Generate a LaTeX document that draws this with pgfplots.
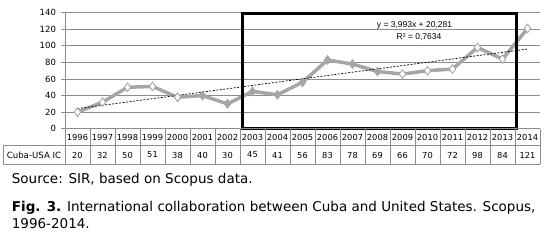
\documentclass[border=0pt]{standalone}
\usepackage{pgfplots}
\pgfplotsset{compat=1.18}
\usepackage{fontspec}
\setmainfont{DejaVu Sans}
\newfontfamily\eqfont{Liberation Sans}
\definecolor{serg}{HTML}{A6A6A6}
\definecolor{gridg}{HTML}{8C8C8C}
\begin{document}
\begin{tikzpicture}
\path[use as bounding box] (0pt,0pt) rectangle (548pt,241pt);
\begin{axis}[
  at={(65pt,112.3pt)}, anchor=south west, scale only axis,
  width=475pt, height=116pt,
  xmin=1995.5, xmax=2014.5, ymin=0, ymax=140,
  ytick={0,20,...,140}, xtick=\empty,
  ymajorgrids, grid style={gridg, line width=0.8pt},
  axis x line*=bottom, axis y line*=left,
  axis line style={gridg, line width=0.8pt},
  tick align=outside, major tick length=4pt,
  ytick style={gridg, line width=0.8pt},
  /pgf/number format/assume math mode=true,
  yticklabel style={font=\fontsize{8.5}{10}\selectfont, anchor=east, xshift=-1.5pt},
]
\addplot[serg, line width=3.5pt, no marks] coordinates {
(1996,20) (1997,32) (1998,50) (1999,51) (2000,38) (2001,40) (2002,30)
(2003,45) (2004,41) (2005,56) (2006,83) (2007,78) (2008,69) (2009,66)
(2010,70) (2011,72) (2012,98) (2013,84) (2014,121)};
\addplot[only marks, mark=diamond*, mark size=4.3pt, mark options={fill=white, draw=serg, line width=0.9pt}] coordinates {
(1996,20) (1997,32) (1998,50) (1999,51) (2000,38)
(2009,66) (2010,70) (2011,72) (2012,98) (2013,84) (2014,121)};
\addplot[only marks, mark=diamond*, mark size=4.3pt, mark options={fill=serg, draw=serg, line width=0.9pt}] coordinates {
(2001,40) (2002,30) (2003,45) (2004,41) (2005,56) (2006,83) (2007,78) (2008,69)};
\addplot[black, line width=0.7pt, dash pattern=on 2pt off 1.5pt] coordinates {(1996,24.274) (2014,96.148)};
\end{axis}
\begin{scope}[x=1pt,y=1pt]
% highlight box
\draw[black, line width=3pt] (242.3,112.7) rectangle (516.7,227.4);
% trend equation
\node[font=\eqfont\fontsize{8.5}{10}\selectfont, anchor=base] at (414.5,213.7) {y = 3,993x + 20,281};
\node[font=\eqfont\fontsize{8.5}{10}\selectfont, anchor=base] at (419,201) {R² = 0,7634};
% data table
\begin{scope}[gridg, line width=0.8pt]
\foreach \i in {0,...,19} \draw (65+25*\i,112.3) -- (65+25*\i,76.7);
\draw (3,95.3) -- (540,95.3);
\draw (3,76.7) -- (540,76.7);
\draw (3,95.3) -- (3,76.7);
\draw (65,112.3) -- (540,112.3);
\end{scope}
\foreach \y [count=\i from 0] in {1996,...,2014}
  \node[font=\fontsize{8.3}{9}\selectfont] at (77.5+25*\i,103.8) {\y};
\foreach \v [count=\i from 0] in {20,32,50,51,38,40,30,45,41,56,83,78,69,66,70,72,98,84,121}
  \node[font=\fontsize{8.3}{9}\selectfont] at (77.5+25*\i,86) {\v};
\node[font=\fontsize{8.6}{9}\selectfont] at (34,86) {Cuba-USA IC};
% source and caption
\node[anchor=base west, inner sep=0pt, font=\fontsize{13.5}{16}\selectfont] at (11.7,57.5) {Source: SIR, based on Scopus data.};
\node[anchor=base west, inner sep=0pt, font=\fontsize{13.5}{16}\selectfont] at (11.7,29.5) {\textbf{Fig. 3.} International collaboration between Cuba and United States. Scopus,};
\node[anchor=base west, inner sep=0pt, font=\fontsize{13.5}{16}\selectfont] at (11.7,12.5) {1996-2014.};
\end{scope}
\end{tikzpicture}
\end{document}
